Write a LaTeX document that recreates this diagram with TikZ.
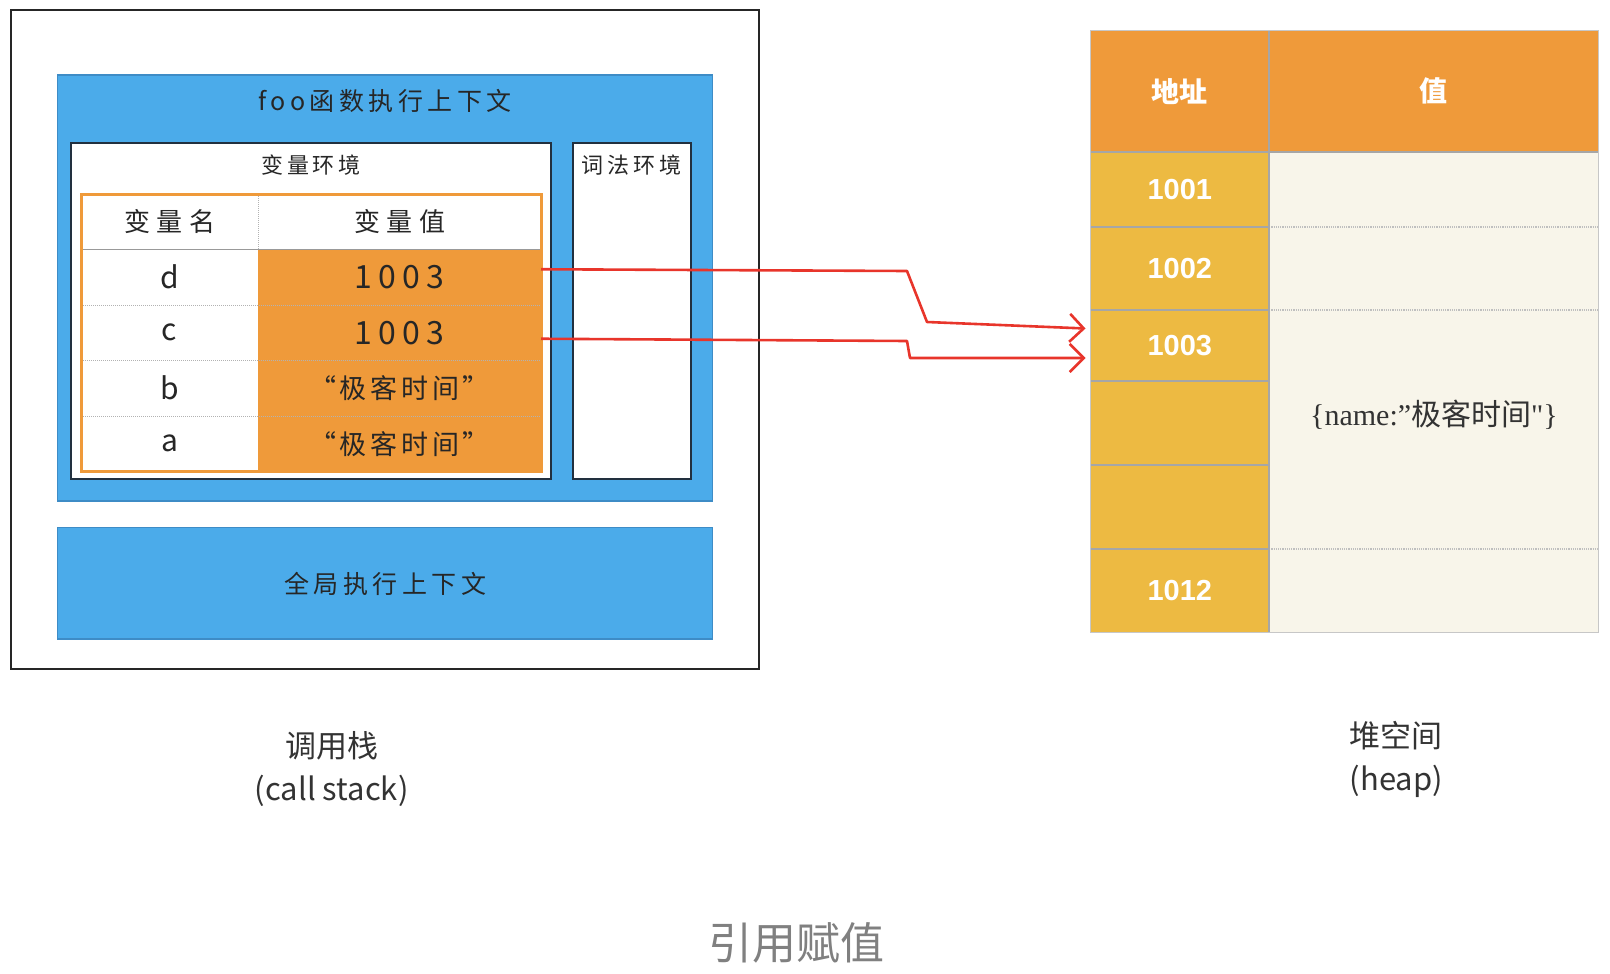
\documentclass[tikz,border=0pt]{standalone}
\usepackage{fontspec}
\setmainfont{Noto Sans CJK SC}
\newfontfamily\cjkfont{Noto Sans CJK SC}
\newfontfamily\numfont{Liberation Sans}
\newfontfamily\serfont{Liberation Serif}
\usetikzlibrary{arrows.meta}
\definecolor{skyblue}{HTML}{4BABEA}
\definecolor{skyedge}{HTML}{3E8CC6}
\definecolor{navyline}{HTML}{22303F}
\definecolor{tangerine}{HTML}{EF9A3A}
\definecolor{amber}{HTML}{EDBA42}
\definecolor{cream}{HTML}{F8F5EA}
\definecolor{arrowred}{HTML}{E8352B}
\newcommand\handsize[2]{\fontsize{#1}{#1}\selectfont\addfontfeatures{LetterSpace=#2}}
\tikzset{
  box/.style 2 args={minimum width={(#1)*1pt}, minimum height={(#2)*1pt}, inner sep=0pt, outer sep=0pt},
  bluebox/.style={fill=skyblue, draw=skyedge, line width=1.2pt},
  envbox/.style={fill=white, draw=navyline, line width=2pt},
  ctxtitle/.style={text=black!85, font=\handsize{25}{18}},
  envtitle/.style={text=black!85, font=\handsize{22}{18}},
  headcell/.style={text=black!85, font=\handsize{26}{25}, text depth=2pt},
  namecell/.style={text=black!85, font=\fontsize{30}{30}\selectfont},
  valcell/.style={text=black!85},
  rowsep/.style={densely dotted, black!30, line width=1pt},
  heaphead/.style={text=white, font=\fontsize{28}{28}\selectfont\bfseries},
  addrcell/.style={text=white, font=\numfont\fontsize{29}{29}\selectfont\bfseries},
  gridline/.style={black!35, line width=1.5pt},
  cellsep/.style={densely dotted, black!25, line width=1.2pt},
  ptr/.style={arrowred, line width=2.6pt, line join=round, -{Straight Barb[length=14pt,width=28pt]}},
  caption/.style={text=black!80, font=\fontsize{31}{31}\selectfont},
}
\begin{document}
\begin{tikzpicture}[x=1pt,y=-1pt]
\useasboundingbox (0,0) rectangle (1610,974);
\draw[line width=2.6pt, black!85] (11,10) rectangle (759,669);
\draw[bluebox] (57.5,75) rectangle (712.5,501);
\node[ctxtitle] (foo) at (385,101) {foo函数执行上下文};
\draw[envbox] (71,142.5) rectangle (551,479);
\draw[envbox] (572.5,142.5) rectangle (690.5,479);
\node[envtitle] (varenv) at (311,165) {变量环境};
\node[envtitle] (lexenv) at (631.5,165) {词法环境};
\node[box={177}{55.5}, fill=white, headcell] (hname) at (169.5,221.75) {变量名};
\node[box={283}{55.5}, fill=white, headcell] (hvalue) at (399.5,221.75) {变量值};
\foreach \k/\v [count=\i] in {d/{\handsize{32}{20}1003}, c/{\handsize{32}{20}1003}, b/{\handsize{27}{14}“极客时间”}, a/{\handsize{27}{14}“极客时间”}} {
  \node[box={177}{55.5}, fill=white, namecell] (n-\k) at (169.5,{221.75+55.5*\i}) {\k};
  \node[box={283}{55.5}, fill=tangerine, valcell] (v-\k) at (399.5,{221.75+55.5*\i}) {\v};
}
\foreach \k in {d,c,b}
  \draw[rowsep] (n-\k.south west) -- (v-\k.south east);
\draw[black!40, line width=1.5pt] (hname.south west) -- (hvalue.south east);
\draw[rowsep] (hname.north east) -- (hname.south east);
\draw[tangerine, line width=3pt] (hname.north west) rectangle (v-a.south east);
\draw[bluebox] (57.5,527.5) rectangle (712.5,639);
\node[ctxtitle] (global) at (385,584) {全局执行上下文};

\node[box={178.5}{121}, fill=tangerine, heaphead] (addr) at (1179.75,91.25) {地址};
\node[box={329.5}{121}, fill=tangerine, heaphead] (val) at (1433.95,91.25) {值};
\foreach \t/\ya/\yb [count=\i] in {1001/152/227, 1002/227/310, 1003/310/381, /381/465, /465/549, 1012/549/632.5}
  \node[box={178.5}{\yb-\ya}, fill=amber, addrcell] (ha-\i) at (1179.75,{(\ya+\yb)/2}) {\t};
\foreach \ya/\yb [count=\i] in {152/227, 227/310, 310/549, 549/632.5}
  \node[box={329.5}{\yb-\ya}, fill=cream] (hv-\i) at (1433.95,{(\ya+\yb)/2}) {};
\node[font=\fontsize{30}{30}\selectfont, text=black!80] (obj) at ([yshift=15pt]hv-3.center) {\serfont\{name:”\cjkfont 极客时间\serfont"\}};
\foreach \i in {1,2,3}
  \draw[cellsep] (hv-\i.south west) -- (hv-\i.south east);
\foreach \i in {1,...,5}
  \draw[gridline] (ha-\i.south west) -- (ha-\i.south east);
\draw[gridline] (addr.south west) -- (val.south east);
\draw[gridline] (addr.north east) -- (ha-6.south east);
\draw[black!22, line width=1.2pt] (addr.north west) rectangle (hv-4.south east);

\draw[ptr] ([yshift=8pt]v-d.east) -- (907,271) -- (927,322) -- ([xshift=-5pt,yshift=17pt]ha-3.west);
\draw[ptr] ([yshift=-6pt]v-c.east) -- (907,341) -- (910,358) -- ([xshift=-5pt,yshift=-12.5pt]ha-3.west);

\node[caption] (stacklbl) at (331.7,745.5) {调用栈};
\node[caption] (stacksub) at (331.7,790.6) {(call stack)};
\node[caption] (heaplbl) at (1396.4,735.2) {堆空间};
\node[caption] (heapsub) at (1396.4,781.4) {(heap)};
\node[text=black!50, font=\fontsize{44}{44}\selectfont] (fig) at (796.8,942.6) {引用赋值};
\end{tikzpicture}
\end{document}
